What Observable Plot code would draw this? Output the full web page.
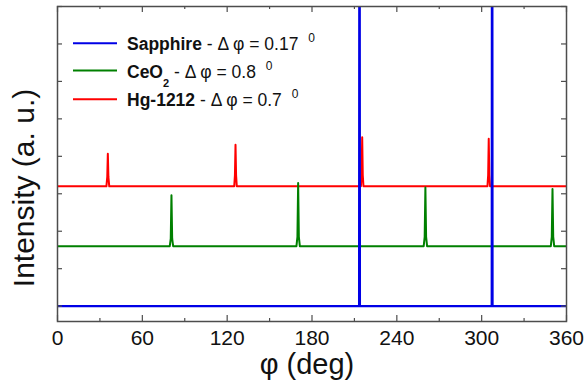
<!DOCTYPE html>
<html><head><meta charset="utf-8">
<script src="https://cdn.jsdelivr.net/npm/d3@7"></script>
<script src="https://cdn.jsdelivr.net/npm/@observablehq/plot@0.6"></script>
<style>
html,body{margin:0;padding:0;background:#fff;}
#chart{width:587px;height:383px;}
</style></head><body><div id="chart"></div>
<script>
// Tick values
const xTickValues = [0, 60, 120, 180, 240, 300, 360];
const xMinorTicks = [30, 90, 150, 210, 270, 330];
const yTickValues = [0, 1, 2, 3, 4, 5, 6, 7, 8];

// Series (phi in degrees, intensity in arbitrary units, offset for display)
const sapphirePhi = [0, 213.3, 213.6, 213.9, 307.1, 307.4, 307.7, 360];
const sapphireI   = [0, 0, 20, 0, 0, 20, 0, 0];

const ceo2Phi = [0, 79.4, 80.1, 80.6, 81.1, 81.8, 169.0, 169.7, 170.2, 170.7, 171.4,
                 259.0, 259.7, 260.2, 260.7, 261.4, 348.9, 349.6, 350.1, 350.6, 351.3, 360];
const ceo2I   = [1.6, 1.6, 1.8, 2.96, 1.8, 1.6, 1.6, 1.85, 3.29, 1.85, 1.6,
                 1.6, 1.85, 3.17, 1.85, 1.6, 1.6, 1.85, 3.13, 1.85, 1.6, 1.6];

const hgPhi = [0, 34.6, 35.2, 35.6, 36.0, 36.6, 125.0, 125.5, 125.9, 126.3, 126.8,
               214.6, 215.1, 215.5, 215.9, 216.4, 304.1, 304.6, 305.0, 305.4, 305.9, 360];
const hgI   = [3.2, 3.2, 3.45, 4.07, 3.45, 3.2, 3.2, 3.5, 4.31, 3.5, 3.2,
               3.2, 3.5, 4.51, 3.5, 3.2, 3.2, 3.5, 4.47, 3.5, 3.2, 3.2];

// Legend
const legendNames  = ["Sapphire", "CeO", "Hg-1212"];
const legendSubs   = ["", "2", ""];
const legendWidths = ["0.17", "0.8", "0.7"];
const seriesColors = ["#0000e6", "#008000", "#ff0000"];

const toPts = (phi, I) => phi.map((p, i) => ({phi: p, I: I[i]}));
const sapphire = toPts(sapphirePhi, sapphireI);
const ceo2 = toPts(ceo2Phi, ceo2I);
const hg = toPts(hgPhi, hgI);

const W = 587, H = 383, mL = 57, mR = 21, mT = 6, mB = 62;
const fw = W - mL - mR, fh = H - mT - mB;
const axisColor = "#4d4d4d";
const font = "'Liberation Sans', Arial, Helvetica, sans-serif";

const plot = Plot.plot({
  width: W, height: H,
  marginLeft: mL, marginRight: mR, marginTop: mT, marginBottom: mB,
  style: {fontFamily: font, background: "white", color: "#111", overflow: "visible"},
  x: {domain: [0, 360]},
  y: {domain: [-0.41, 8], axis: null},
  marks: [
    Plot.line(hg, {x: "phi", y: "I", stroke: seriesColors[2], strokeWidth: 2, clip: true}),
    Plot.line(ceo2, {x: "phi", y: "I", stroke: seriesColors[1], strokeWidth: 2, clip: true}),
    Plot.line(sapphire, {x: "phi", y: "I", stroke: seriesColors[0], strokeWidth: 2.2, clip: true}),
    Plot.frame({stroke: axisColor, strokeWidth: 1.5}),
    Plot.tickX(xTickValues, {x: d => d, insetTop: fh - 6, stroke: axisColor, strokeWidth: 1.2}),
    Plot.tickX(xTickValues, {x: d => d, insetBottom: fh - 6, stroke: axisColor, strokeWidth: 1.2}),
    Plot.tickX(xMinorTicks, {x: d => d, insetTop: fh - 3, stroke: axisColor, strokeWidth: 1.2}),
    Plot.tickX(xMinorTicks, {x: d => d, insetBottom: fh - 3, stroke: axisColor, strokeWidth: 1.2}),
    Plot.tickY(yTickValues, {y: d => d, insetRight: fw - 5, stroke: axisColor, strokeWidth: 1.2}),
    Plot.tickY(yTickValues, {y: d => d, insetLeft: fw - 5, stroke: axisColor, strokeWidth: 1.2}),
    Plot.axisX({ticks: xTickValues, tickSize: 0, tickPadding: 9, fontSize: 21, label: null, tickFormat: d => String(d)}),
    Plot.text(["φ (deg)"], {frameAnchor: "bottom", textAnchor: "middle", dy: 52, dx: -5, fontSize: 29, lineAnchor: "bottom", fill: "#111"}),
    Plot.text(["Intensity (a. u.)"], {frameAnchor: "left", textAnchor: "middle", rotate: -90, dx: -24, dy: 24, fontSize: 30, lineAnchor: "bottom", fill: "#111"})
  ]
});
document.getElementById("chart").appendChild(plot);

// Legend (rich text with sub/superscripts)
const svg = d3.select(plot);
const leg = svg.append("g").attr("font-family", font).attr("font-size", 17.5).attr("fill", "#111")
  .attr("text-anchor", "start").style("white-space", "pre");
const legLineY = [43.3, 70.6, 99.3];
legendNames.forEach((name, i) => {
  const y = legLineY[i];
  leg.append("line").attr("x1", 73).attr("x2", 117).attr("y1", y).attr("y2", y)
    .attr("stroke", seriesColors[i]).attr("stroke-width", 2);
  const t = leg.append("text").attr("x", 127).attr("y", y + 7).attr("text-anchor", "start");
  t.append("tspan").attr("font-weight", "bold").text(name);
  let back = 0;
  if (legendSubs[i]) {
    t.append("tspan").attr("font-weight", "bold").attr("font-size", 11).attr("dy", 9).text(legendSubs[i]);
    back = -9;
  }
  t.append("tspan").attr("dy", back).text(" - Δ φ = " + legendWidths[i] + " ");
  t.append("tspan").attr("font-size", 12).attr("dx", 5).attr("dy", -8).text("0");
});
</script>
</body></html>
